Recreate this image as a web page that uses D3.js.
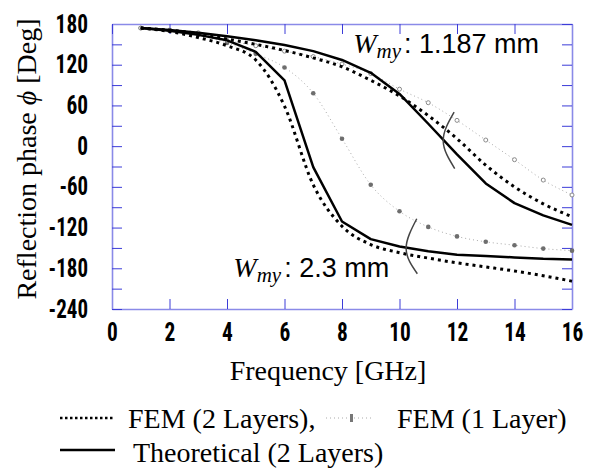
<!DOCTYPE html>
<html>
<head>
<meta charset="utf-8">
<script src="https://cdn.jsdelivr.net/npm/d3@7"></script>
<style>
    body { margin: 0; background: #fff; }
    svg { display: block; }
</style>
</head>
<body>
<div id="chart"></div>
<script>
// frequency points [GHz]
let freq = [1, 2, 3, 4, 5, 6, 7, 8, 9, 10, 11, 12, 13, 14, 15, 16]

// reflection phase [deg], Wmy = 2.3 mm
let theo23 = [174, 170, 164, 156, 139, 97, -31, -111, -137, -148, -155, -160, -162, -164, -166, -167]
let fem2L23 = [174, 169, 160, 148, 127, 59, -57, -118, -145, -157, -165, -172, -178, -184, -191, -199]
let fem1L23 = [174, 170, 164, 152, 136, 116, 78, 11, -57, -96, -119, -133, -141, -146, -151, -154]

// reflection phase [deg], Wmy = 1.187 mm
let theo1187 = [174, 171, 167, 162, 156, 149, 140, 127, 108, 77, 33, -12, -55, -84, -102, -116]
let fem2L1187 = [174, 171, 166, 158, 150, 141, 130, 117, 97, 74, 45, 11, -28, -60, -85, -104]
let fem1L1187 = [174, 171, 167, 156, 148, 140, 132, 121, 107, 84, 64, 38, 9, -20, -50, -72]

let xTicks = [0, 2, 4, 6, 8, 10, 12, 14, 16]
let yTicks = [-240, -210, -180, -150, -120, -90, -60, -30, 0, 30, 60, 90, 120, 150, 180]

// brackets tying each label to its curve group (data units)
let arcUpper = [[11.9, 50], [11.52, 8], [11.92, -33]]
let arcLower = [[10.6, -107], [10.23, -151], [10.62, -188]]

let labels = [
    { f: 8.39, v: 138, text: "1.187 mm" },
    { f: 4.22, v: -193, text: "2.3 mm" }
]

let width = 601,
    height = 470

let margin = {
    top: 24,
    right: 29,
    bottom: 161,
    left: 112
}

let w = width - margin.left - margin.right
let h = height - margin.top - margin.bottom

let serif = "'Liberation Serif', 'Times New Roman', Tinos, serif",
    sans = "'Liberation Sans', Arial, Arimo, sans-serif",
    narrow = "'Roboto Condensed', 'DejaVu Sans Condensed', sans-serif"

let frameColor = "#8a8ae8",
    tickColor = "#3c3cd8"

let xScale = d3.scaleLinear().domain([0, 16]).range([0, w])
let yScale = d3.scaleLinear().domain([-240, 180]).range([h, 0])

let svg = d3.select("#chart")
    .append("svg")
    .attr("width", width)
    .attr("height", height)

let g = svg.append("g")
    .attr("transform", "translate(" + margin.left + "," + margin.top + ")")

function styleAxis(sel) {
    sel.attr("font-family", null).attr("font-size", null)
    sel.select(".domain").attr("stroke", frameColor).attr("stroke-width", 1.6)
    sel.selectAll(".tick line").attr("stroke", tickColor).attr("stroke-width", 1)
    sel.selectAll(".tick text")
        .style("font-family", narrow)
        .style("font-weight", "bold")
        .style("font-size", "25px")
        .attr("fill", "#000")
        .each(function () {
            let s = this.textContent
            if (!s) return
            // squeeze to the narrow bold look of the original
            let len = s.replace("-", "").length * 10.8 + (s.indexOf("-") >= 0 ? 7 : 0)
            d3.select(this).attr("textLength", len).attr("lengthAdjust", "spacingAndGlyphs")
        })
}

// axes, ticks pointing inwards on all four sides
g.append("g")
    .attr("transform", "translate(0," + h + ")")
    .call(d3.axisBottom(xScale).tickValues(xTicks).tickSizeInner(-10).tickSizeOuter(0).tickPadding(14))
    .call(styleAxis)

g.append("g")
    .call(d3.axisLeft(yScale).tickValues(yTicks).tickSizeInner(-10).tickSizeOuter(0).tickPadding(24)
        .tickFormat(function (d) { return d % 60 === 0 ? String(d) : "" }))
    .call(styleAxis)

g.append("g")
    .call(d3.axisTop(xScale).tickValues(xTicks).tickSizeInner(-10).tickSizeOuter(0).tickFormat(""))
    .call(styleAxis)

g.append("g")
    .attr("transform", "translate(" + w + ",0)")
    .call(d3.axisRight(yScale).tickValues(yTicks).tickSizeInner(-10).tickSizeOuter(0).tickFormat(""))
    .call(styleAxis)

// curves
function toPoints(vals) {
    return freq.map(function (f, i) { return [f, vals[i]] })
}

let smooth = d3.line()
    .x(function (d) { return xScale(d[0]) })
    .y(function (d) { return yScale(d[1]) })
    .curve(d3.curveMonotoneX)

let straight = d3.line()
    .x(function (d) { return xScale(d[0]) })
    .y(function (d) { return yScale(d[1]) })

// FEM (1 Layer): thin grey dotted line with markers
;[fem1L23, fem1L1187].forEach(function (vals) {
    g.append("path")
        .attr("d", smooth(toPoints(vals)))
        .attr("fill", "none")
        .attr("stroke", "#aaaaaa")
        .attr("stroke-width", 1)
        .attr("stroke-dasharray", "1,3")
})

g.append("g").selectAll("circle")
    .data(toPoints(fem1L23))
    .enter().append("circle")
    .attr("cx", function (d) { return xScale(d[0]) })
    .attr("cy", function (d) { return yScale(d[1]) })
    .attr("r", 2.3)
    .attr("fill", "#6e6e6e")

g.append("g").selectAll("circle")
    .data(toPoints(fem1L1187))
    .enter().append("circle")
    .attr("cx", function (d) { return xScale(d[0]) })
    .attr("cy", function (d) { return yScale(d[1]) })
    .attr("r", 2)
    .attr("fill", "#fff")
    .attr("stroke", "#8a8a8a")
    .attr("stroke-width", 1)

// FEM (2 Layers): heavy black dots
;[fem2L23, fem2L1187].forEach(function (vals) {
    g.append("path")
        .attr("d", smooth(toPoints(vals)))
        .attr("fill", "none")
        .attr("stroke", "#000")
        .attr("stroke-width", 3)
        .attr("stroke-dasharray", "3,4")
})

// Theoretical (2 Layers): solid black
;[theo23, theo1187].forEach(function (vals) {
    g.append("path")
        .attr("d", straight(toPoints(vals)))
        .attr("fill", "none")
        .attr("stroke", "#000")
        .attr("stroke-width", 2.5)
        .attr("stroke-linejoin", "round")
})

// brackets
let arcLine = d3.line()
    .x(function (d) { return xScale(d[0]) })
    .y(function (d) { return yScale(d[1]) })
    .curve(d3.curveNatural)

;[arcUpper, arcLower].forEach(function (pts) {
    g.append("path")
        .attr("d", arcLine(pts))
        .attr("fill", "none")
        .attr("stroke", "#444")
        .attr("stroke-width", 1.5)
})

// W_my labels
labels.forEach(function (d) {
    let t = g.append("text")
        .attr("x", xScale(d.f))
        .attr("y", yScale(d.v))
        .attr("fill", "#000")
    t.append("tspan").style("font-family", serif).style("font-style", "italic").style("font-size", "28px").text("W")
    t.append("tspan").style("font-family", serif).style("font-style", "italic").style("font-size", "21px").attr("dy", 5).text("my")
    t.append("tspan").style("font-family", sans).style("font-size", "27px").attr("dy", -5).attr("dx", 3).text(": " + d.text)
})

// axis titles
svg.append("text")
    .style("font-family", serif)
    .style("font-size", "28px")
    .attr("text-anchor", "middle")
    .attr("transform", "translate(36,159) rotate(-90)")
    .call(function (t) {
        t.append("tspan").text("Reflection phase ")
        t.append("tspan").style("font-style", "italic").text("ϕ")
        t.append("tspan").text(" [Deg]")
    })

svg.append("text")
    .style("font-family", serif)
    .style("font-size", "28px")
    .attr("text-anchor", "middle")
    .attr("x", 328)
    .attr("y", 380)
    .text("Frequency [GHz]")

// legend
let legend = svg.append("g")
    .style("font-family", serif)
    .style("font-size", "28px")

legend.append("line")
    .attr("x1", 60).attr("x2", 113).attr("y1", 418).attr("y2", 418)
    .attr("stroke", "#000").attr("stroke-width", 2.5).attr("stroke-dasharray", "2.5,2.5")

legend.append("text")
    .attr("x", 128).attr("y", 428)
    .text("FEM (2 Layers),")

legend.append("line")
    .attr("x1", 326).attr("x2", 374).attr("y1", 418).attr("y2", 418)
    .attr("stroke", "#aaaaaa").attr("stroke-width", 1).attr("stroke-dasharray", "1,3")

legend.append("rect")
    .attr("x", 350).attr("y", 414).attr("width", 3).attr("height", 8)
    .attr("fill", "#777")

legend.append("text")
    .attr("x", 397).attr("y", 428)
    .text("FEM (1 Layer)")

legend.append("line")
    .attr("x1", 60).attr("x2", 115).attr("y1", 450).attr("y2", 450)
    .attr("stroke", "#000").attr("stroke-width", 2.5)

legend.append("text")
    .attr("x", 133).attr("y", 462)
    .text("Theoretical (2 Layers)")
</script>
</body>
</html>
